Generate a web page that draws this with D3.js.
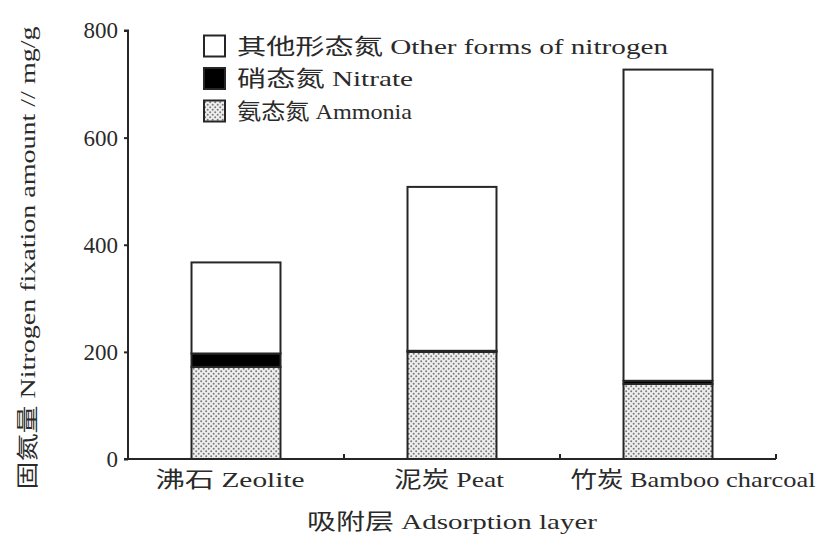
<!DOCTYPE html>
<html>
<head>
<meta charset="utf-8">
<script src="https://cdn.jsdelivr.net/npm/d3@7/dist/d3.min.js"></script>
<style>
  html, body { margin: 0; padding: 0; background: #fff; }
  svg { display: block; }
  text { font-family: "Liberation Serif", "Noto Sans CJK SC", serif; fill: #2a2a2a; }
</style>
</head>
<body>
<script>
// Nitrogen fixed by each adsorption layer, split by form (mg/g)
const categories = ["沸石 Zeolite", "泥炭 Peat", "竹炭 Bamboo charcoal"];
const ammonia = [172, 200, 140];
const nitrate = [25, 2, 6];
const otherForms = [170, 306, 581];
const seriesNames = ["氨态氮 Ammonia", "硝态氮 Nitrate", "其他形态氮 Other forms of nitrogen"];
const yTicks = [0, 200, 400, 600, 800];
const yTitle = "固氮量 Nitrogen fixation amount // mg/g";
const xTitle = "吸附层 Adsorption layer";

const W = 823, H = 536;
const ink = "#262626";

const svg = d3.select("body").append("svg").attr("width", W).attr("height", H);

// stipple fill for ammonia
const defs = svg.append("defs");
const pat = defs.append("pattern")
  .attr("id", "stipple").attr("patternUnits", "userSpaceOnUse")
  .attr("width", 5).attr("height", 5);
pat.append("rect").attr("width", 5).attr("height", 5).attr("fill", "#eeeeee");
pat.append("circle").attr("cx", 1.2).attr("cy", 1.2).attr("r", 1).attr("fill", "#7a7a7a");
pat.append("circle").attr("cx", 3.7).attr("cy", 3.7).attr("r", 1).attr("fill", "#7a7a7a");

const x0 = 128, x1 = 776, yBase = 459, yTop = 30.5;

const x = d3.scaleBand().domain(categories).range([x0, x1])
  .paddingInner(0.588).paddingOuter(0.294);
const y = d3.scaleLinear().domain([0, 800]).range([yBase, yTop]);

// stacked data
const rows = categories.map((c, i) => ({ cat: c, ammonia: ammonia[i], nitrate: nitrate[i], other: otherForms[i] }));
const keys = ["ammonia", "nitrate", "other"];
const stacked = d3.stack().keys(keys)(rows);
const fills = { ammonia: "url(#stipple)", nitrate: "#000", other: "#fff" };

const g = svg.append("g");
stacked.forEach(layer => {
  g.selectAll(null).data(layer).join("rect")
    .attr("x", d => x(d.data.cat))
    .attr("width", x.bandwidth())
    .attr("y", d => y(d[1]))
    .attr("height", d => y(d[0]) - y(d[1]))
    .attr("fill", fills[layer.key])
    .attr("stroke", ink)
    .attr("stroke-width", 2);
});

// y axis
const yAxis = svg.append("g").attr("transform", `translate(${x0},0)`)
  .call(d3.axisLeft(y).tickValues(yTicks).tickSize(4).tickPadding(6).tickFormat(d3.format("d")));
yAxis.select(".domain").attr("stroke", ink).attr("stroke-width", 2)
  .attr("d", `M-4,${y(800)}H0V${yBase}H-4`);
yAxis.selectAll(".tick line").attr("stroke", ink).attr("stroke-width", 2);
yAxis.selectAll(".tick text").attr("font-size", 23).attr("fill", "#2a2a2a")
  .attr("textLength", d => String(d).length * 11.5).attr("lengthAdjust", "spacingAndGlyphs")
  .style("font-family", "'Liberation Serif', serif");

// x axis: baseline with inward ticks at band boundaries
const xAxis = svg.append("g").attr("transform", `translate(0,${yBase})`)
  .call(d3.axisBottom(x).tickSize(0).tickPadding(12));
xAxis.select(".domain").attr("stroke", ink).attr("stroke-width", 2)
  .attr("d", `M${x0},0H${x1}`);
const labelLen = [149, 110, 245];
const labelShift = [-6, -3, 25];
xAxis.selectAll(".tick text")
  .attr("font-size", 22).attr("fill", "#2a2a2a")
  .attr("dx", (d, i) => labelShift[i])
  .attr("textLength", (d, i) => labelLen[i])
  .attr("lengthAdjust", "spacingAndGlyphs");
const bounds = d3.range(1, categories.length + 1).map(i => x0 + x.step() * i);
xAxis.selectAll(".bound").data(bounds).join("line")
  .attr("x1", d => d).attr("x2", d => d)
  .attr("y1", 0).attr("y2", -5)
  .attr("stroke", ink).attr("stroke-width", 2);

// axis titles
svg.append("text")
  .attr("transform", `translate(27,${258}) rotate(-90)`)
  .attr("text-anchor", "middle").attr("dominant-baseline", "central")
  .attr("font-size", 22)
  .attr("textLength", 463).attr("lengthAdjust", "spacingAndGlyphs")
  .text(yTitle);

svg.append("text")
  .attr("x", 452).attr("y", 521)
  .attr("text-anchor", "middle").attr("dominant-baseline", "central")
  .attr("font-size", 22)
  .attr("textLength", 290).attr("lengthAdjust", "spacingAndGlyphs")
  .text(xTitle);

// legend (top entry is the top of the stack)
const legendItems = [
  { name: seriesNames[2], fill: fills.other, len: 431 },
  { name: seriesNames[1], fill: fills.nitrate, len: 176 },
  { name: seriesNames[0], fill: fills.ammonia, len: 175 }
];
const lg = svg.append("g").attr("transform", "translate(204,46)");
const li = lg.selectAll("g").data(legendItems).join("g")
  .attr("transform", (d, i) => `translate(0,${i * 32.5})`);
li.append("rect")
  .attr("x", 0).attr("y", -10.5).attr("width", 21).attr("height", 21)
  .attr("fill", d => d.fill).attr("stroke", ink).attr("stroke-width", 2);
li.append("text")
  .attr("x", 33).attr("y", 0).attr("dominant-baseline", "central")
  .attr("font-size", 22)
  .attr("textLength", d => d.len).attr("lengthAdjust", "spacingAndGlyphs")
  .text(d => d.name);
</script>
</body>
</html>
